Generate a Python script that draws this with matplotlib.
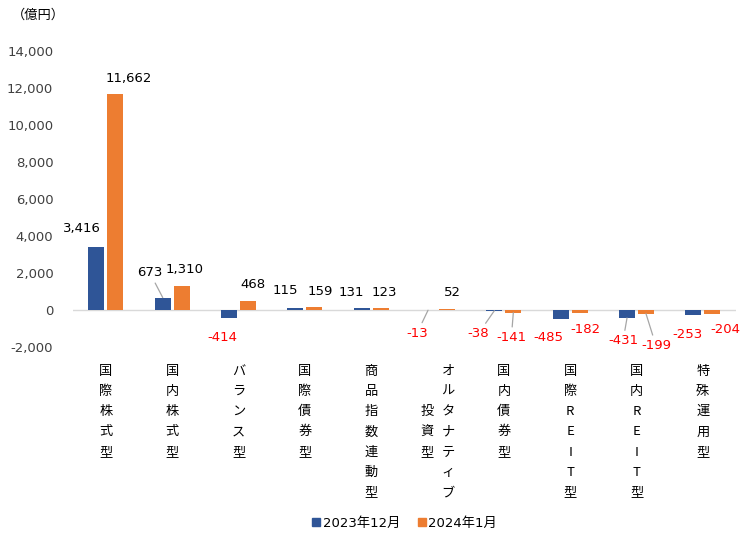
import matplotlib
matplotlib.use("Agg")
import matplotlib.pyplot as plt
import matplotlib.transforms as mtransforms
from matplotlib.lines import Line2D

plt.rcParams['font.family'] = ['DejaVu Sans', 'Noto Sans CJK JP']

categories = ["国際株式型", "国内株式型", "バランス型", "国際債券型", "商品指数連動型",
              "オルタナティブ投資型", "国内債券型", "国際REIT型", "国内REIT型", "特殊運用型"]
series_names = ["2023年12月", "2024年1月"]
dec2023 = [3416, 673, -414, 115, 131, -13, -38, -485, -431, -253]
jan2024 = [11662, 1310, 468, 159, 123, 52, -141, -182, -199, -204]
yticks = [-2000, 0, 2000, 4000, 6000, 8000, 10000, 12000, 14000]

colors = ["#2F5597", "#ED7D31"]

# label offsets (pixels, dx right, dy down) from bar end, and leader-line flags
off_dec = [(-14, -18), (-13, -25), (-7, 20), (-10, -17), (-10, -15),
           (-11, 23), (-16, 23), (-12, 19), (-4, 23), (-6, 20)]
lead_dec = [False, True, False, False, False, True, True, False, True, False]
off_jan = [(13, -16), (3, -16), (5, -17), (6, -16), (4, -15),
           (5, -17), (-2, 25), (6, 16), (10, 32), (13, 16)]
lead_jan = [False, False, False, False, False, False, True, False, True, False]

fig = plt.figure(figsize=(7.5, 5.33), dpi=100)
ax = fig.add_axes([72.7 / 750, 1 - 347 / 533, (736 - 72.7) / 750, (347 - 51) / 533])

x = list(range(len(categories)))
w = 0.241
d = 0.143
bars1 = ax.bar([i - d for i in x], dec2023, width=w, color=colors[0], zorder=3)
bars2 = ax.bar([i + d for i in x], jan2024, width=w, color=colors[1], zorder=3)

ax.set_xlim(-0.5, len(categories) - 0.5)
ax.set_ylim(-2000, 14000)
ax.set_yticks(yticks)
ax.set_yticklabels([f"{v:,}" for v in yticks], fontsize=9.5, color="#404040")
ax.tick_params(axis='y', length=0, pad=14)
ax.set_xticks([])
for s in ax.spines.values():
    s.set_visible(False)
ax.axhline(0, color="#D9D9D9", lw=1, zorder=2)

def label_series(xs, vals, offs, leads):
    for xi, v, (dx, dy), ld in zip(xs, vals, offs, leads):
        txt = f"{v:,}"
        col = "#FF0000" if v < 0 else "#000000"
        kw = {}
        if ld:
            kw['arrowprops'] = dict(arrowstyle='-', color='#A6A6A6', lw=0.9,
                                    shrinkA=1, shrinkB=0)
        ax.annotate(txt, xy=(xi, v), xytext=(dx, -dy), textcoords='offset pixels',
                    ha='center', va='center', fontsize=9.5, color=col,
                    annotation_clip=False, **kw)

label_series([i - d for i in x], dec2023, off_dec, lead_dec)
label_series([i + d for i in x], jan2024, off_jan, lead_jan)

# vertical category labels
trans = mtransforms.blended_transform_factory(ax.transData, fig.transFigure)
row_h = 20.3
col_w = 21.0
y0 = 1 - 371 / 533
maxrows = 7
for i, lab in enumerate(categories):
    cols = [lab[k:k + maxrows] for k in range(0, len(lab), maxrows)]
    nc = len(cols)
    for j, c in enumerate(cols):
        xo = (nc - 1) / 2 * col_w - j * col_w
        ro = (len(cols[0]) - len(c)) / 2
        for r, ch in enumerate(c):
            t = mtransforms.offset_copy(trans, fig=fig, x=xo, y=-(r + ro) * row_h, units='dots')
            ax.text(i, y0, ch, transform=t, ha='center', va='center', fontsize=9.5,
                    family=['Noto Sans CJK JP', 'DejaVu Sans'], color="#000000")

fig.text(12 / 750, 1 - 15 / 533, "（億円）", ha='left', va='center', fontsize=9.5,
         family=['Noto Sans CJK JP', 'DejaVu Sans'])

handles = [Line2D([], [], marker='s', linestyle='none', markersize=6,
                  markerfacecolor=c, markeredgecolor=c) for c in colors]
fig.legend(handles, series_names, loc='center', bbox_to_anchor=(404 / 750, 1 - 523 / 533),
           ncol=2, frameon=False, fontsize=9.5, handletextpad=0.1, columnspacing=1.2,
           handlelength=0.8)

fig.savefig("out.png", dpi=100)
